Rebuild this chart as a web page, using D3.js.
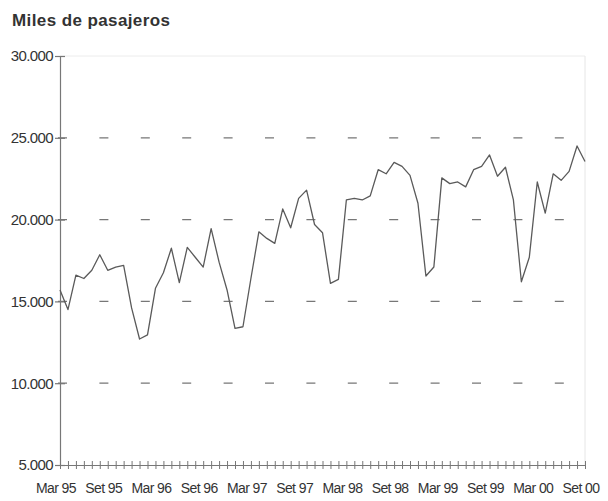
<!DOCTYPE html>
<html>
<head>
<meta charset="utf-8">
<script src="https://cdn.jsdelivr.net/npm/d3@7"></script>
<style>
  html, body { margin: 0; padding: 0; background: #ffffff; }
  svg { display: block; }
  text { font-family: "Liberation Sans", Arial, sans-serif; fill: #333; }
</style>
</head>
<body>
<svg id="chart" width="608" height="501"></svg>
<script>
// ---- data (monthly, Mar 95 .. Set 00) ----
const title = "Miles de pasajeros";
const passengers = [
  15700, 14500, 16600, 16400, 16900, 17850, 16900, 17100, 17200, 14600,
  12700, 12950, 15800, 16750, 18250, 16150, 18300, 17700, 17100, 19450,
  17400, 15700, 13350, 13450, 16400, 19250, 18850, 18550, 20650, 19500,
  21300, 21800, 19700, 19200, 16100, 16350, 21200, 21300, 21200, 21450,
  23050, 22800, 23500, 23250, 22700, 21000, 16550, 17100, 22550, 22200,
  22300, 22000, 23050, 23250, 23950, 22650, 23200, 21200, 16200, 17700,
  22300, 20400, 22800, 22400, 22950, 24500, 23550
];
const xTickLabels = ["Mar 95", "Set 95", "Mar 96", "Set 96", "Mar 97", "Set 97",
                     "Mar 98", "Set 98", "Mar 99", "Set 99", "Mar 00", "Set 00"];
const yTicks = [5000, 10000, 15000, 20000, 25000, 30000];
const gridValues = [10000, 15000, 20000, 25000];

// ---- layout ----
const mLeft = 60, mRight = 585, mTop = 56, mBottom = 465;
const svg = d3.select("#chart");

const x = d3.scaleLinear().domain([0, passengers.length - 1]).range([mLeft, mRight]);
const y = d3.scaleLinear().domain([5000, 30000]).range([mBottom, mTop]);

const loc = d3.formatLocale({decimal: ",", thousands: ".", grouping: [3], currency: ["", ""]});
const fmt = loc.format(",");

// faint plot frame (top & right)
svg.append("line").attr("x1", mLeft).attr("x2", mRight).attr("y1", mTop).attr("y2", mTop)
  .attr("stroke", "#ececec").attr("stroke-width", 1);
svg.append("line").attr("x1", mRight).attr("x2", mRight).attr("y1", mTop).attr("y2", mBottom)
  .attr("stroke", "#e6e6e6").attr("stroke-width", 1);

// dashed gridlines
svg.append("g").selectAll("line").data(gridValues).join("line")
  .attr("x1", mLeft - 2).attr("x2", mRight)
  .attr("y1", d => y(d)).attr("y2", d => y(d))
  .attr("stroke", "#777").attr("stroke-width", 1.2)
  .attr("stroke-dasharray", "9,32.4");

// y axis
const yAxis = svg.append("g").attr("transform", `translate(${mLeft},0)`)
  .call(d3.axisLeft(y).tickValues(yTicks).tickFormat(fmt).tickSizeInner(5).tickSizeOuter(0).tickPadding(2));
yAxis.select(".domain").attr("stroke", "#777").attr("stroke-width", 1.2);
yAxis.selectAll(".tick line").attr("x1", -5).attr("x2", 5).attr("stroke", "#777").attr("stroke-width", 1.2);
yAxis.selectAll(".tick text").attr("font-size", 15).attr("letter-spacing", -0.6)
  .attr("font-family", "Liberation Sans, Arial, sans-serif").attr("fill", "#333");

// x axis with cross ticks at every month
const xAxis = svg.append("g").attr("transform", `translate(0,${mBottom})`)
  .call(d3.axisBottom(x).tickValues(d3.range(passengers.length)).tickFormat("").tickSizeInner(4).tickSizeOuter(0));
xAxis.select(".domain").attr("stroke", "#777").attr("stroke-width", 1.2);
xAxis.selectAll(".tick line").attr("y1", -4).attr("y2", 4).attr("stroke", "#777").attr("stroke-width", 1);

// x labels every 6 months
const labelIdx = xTickLabels.map((d, i) => i * 6);
const xLab = svg.append("g").attr("transform", `translate(-4.5,${mBottom})`)
  .call(d3.axisBottom(x).tickValues(labelIdx).tickFormat((d, i) => xTickLabels[i]).tickSize(0).tickPadding(18));
xLab.select(".domain").remove();
xLab.selectAll(".tick text").attr("font-size", 14).attr("letter-spacing", -0.6)
  .attr("font-family", "Liberation Sans, Arial, sans-serif").attr("fill", "#333");

// data line
svg.append("path").datum(passengers)
  .attr("fill", "none").attr("stroke", "#5a5a5a").attr("stroke-width", 1.3)
  .attr("stroke-linejoin", "round")
  .attr("d", d3.line().x((d, i) => x(i)).y(d => y(d)));

// title
svg.append("text").attr("x", 12).attr("y", 26)
  .attr("font-size", 17).attr("font-weight", "bold").attr("letter-spacing", 0.4)
  .attr("fill", "#333").text(title);
</script>
</body>
</html>
